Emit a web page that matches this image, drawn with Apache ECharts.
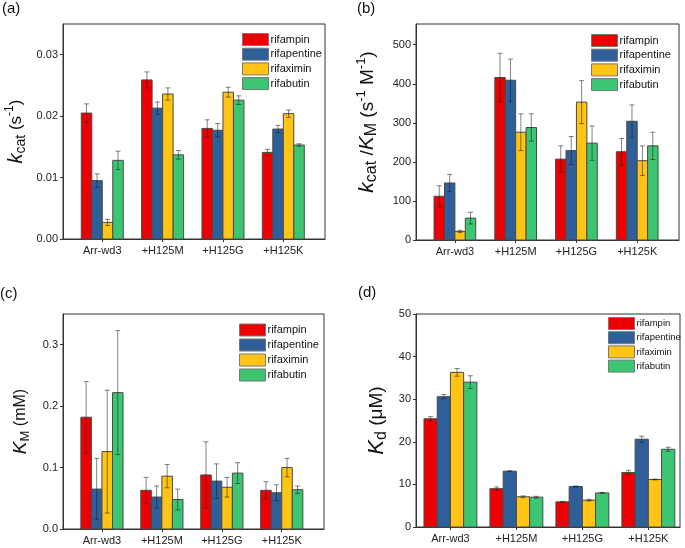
<!DOCTYPE html>
<html><head><meta charset="utf-8">
<script src="https://cdn.jsdelivr.net/npm/echarts@6/dist/echarts.min.js"></script>
<style>html,body{margin:0;padding:0;background:#fff}#c{width:685px;height:548px}</style>
</head><body><div id="c"></div>
<script>
// ---------- DATA ----------
const categories = ['Arr-wd3', '+H125M', '+H125G', '+H125K'];
const drugs = ['rifampin', 'rifapentine', 'rifaximin', 'rifabutin'];

// (a) kcat (s^-1)
const kcatRifampin      = [0.0205, 0.0259, 0.0180, 0.0141];
const kcatRifapentine   = [0.0095, 0.0213, 0.0177, 0.0179];
const kcatRifaximin     = [0.0027, 0.0236, 0.0239, 0.0204];
const kcatRifabutin     = [0.0128, 0.0137, 0.0226, 0.0153];
const kcatErrRifampin    = [0.0015, 0.0013, 0.0014, 0.0005];
const kcatErrRifapentine = [0.0011, 0.0010, 0.0011, 0.0006];
const kcatErrRifaximin   = [0.0005, 0.0010, 0.0008, 0.0006];
const kcatErrRifabutin   = [0.0015, 0.0007, 0.0007, 0.0002];
const kcatTicks = [0, 0.01, 0.02, 0.03];

// (b) kcat/KM (s^-1 M^-1)
const effRifampin      = [112, 416, 207, 226];
const effRifapentine   = [146, 409, 229, 304];
const effRifaximin     = [22, 276, 353, 203];
const effRifabutin     = [56, 288, 248, 241];
const effErrRifampin    = [27, 62, 34, 34];
const effErrRifapentine = [22, 54, 36, 42];
const effErrRifaximin   = [3, 47, 55, 38];
const effErrRifabutin   = [15, 35, 44, 35];
const effTicks = [0, 100, 200, 300, 400, 500];

// (c) KM (mM)
const kmRifampin      = [0.182, 0.063, 0.088, 0.063];
const kmRifapentine   = [0.065, 0.052, 0.078, 0.059];
const kmRifaximin     = [0.126, 0.086, 0.068, 0.100];
const kmRifabutin     = [0.222, 0.048, 0.091, 0.064];
const kmErrRifampin    = [0.058, 0.021, 0.054, 0.014];
const kmErrRifapentine = [0.050, 0.018, 0.028, 0.013];
const kmErrRifaximin   = [0.100, 0.019, 0.016, 0.015];
const kmErrRifabutin   = [0.101, 0.017, 0.017, 0.006];
const kmTicks = [0, 0.1, 0.2, 0.3];

// (d) Kd (uM)
const kdRifampin      = [25.4, 9.0, 5.9, 12.8];
const kdRifapentine   = [30.6, 13.1, 9.5, 20.6];
const kdRifaximin     = [36.3, 7.1, 6.3, 11.15];
const kdRifabutin     = [34.0, 7.0, 8.0, 18.25];
const kdErrRifampin    = [0.5, 0.4, 0.1, 0.5];
const kdErrRifapentine = [0.5, 0.1, 0.15, 0.7];
const kdErrRifaximin   = [0.9, 0.2, 0.2, 0.1];
const kdErrRifabutin   = [1.5, 0.2, 0.1, 0.45];
const kdTicks = [0, 10, 20, 30, 40, 50];

// ---------- STYLE / LAYOUT ----------
const FONT = '"Liberation Sans", Arial, sans-serif';
const colors = ['#ee0000', '#2f5f99', '#ffc414', '#3cc672'];
const catIdx = categories.map((c, k) => k);

const panels = [
  { label: '(a)', labelPos: [2, 1],
    grid: { left: 63, top: 24, width: 262, height: 215 },
    xMin: -0.651, xMax: 3.691, bw: 0.174,
    yMax: 0.035, ticks: kcatTicks, fmt: v => v.toFixed(2),
    vals: [kcatRifampin, kcatRifapentine, kcatRifaximin, kcatRifabutin],
    errs: [kcatErrRifampin, kcatErrRifapentine, kcatErrRifaximin, kcatErrRifabutin],
    name: '{k|k}{sub|cat}{n| (s}{sup|-1}{n|)}', nameGap: 35, namePad: [0, 0, 0, 0],
    rich: { k: 20, sub: 14, n: 17, sup: 12 },
    legend: { left: 242, top: 33, gap: 1.7, font: 11 } },
  { label: '(b)', labelPos: [357, 1],
    grid: { left: 416, top: 24, width: 263, height: 216 },
    xMin: -0.64, xMax: 3.688, bw: 0.1715,
    yMax: 553, ticks: effTicks, fmt: v => String(v),
    vals: [effRifampin, effRifapentine, effRifaximin, effRifabutin],
    errs: [effErrRifampin, effErrRifapentine, effErrRifaximin, effErrRifabutin],
    name: '{k|k}{sub|cat}{n| /}{k|K}{sub|M}{n| (s}{sup|-1}{n| M}{sup|-1}{n|)}', nameGap: 36, namePad: [0, 0, 0, 20],
    rich: { k: 21, sub: 16, n: 19, sup: 13 },
    legend: { left: 591, top: 34, gap: 1.7, font: 11 } },
  { label: '(c)', labelPos: [0, 286],
    grid: { left: 63, top: 314, width: 261, height: 215 },
    xMin: -0.65, xMax: 3.705, bw: 0.176,
    yMax: 0.35, ticks: kmTicks, fmt: v => v.toFixed(1),
    vals: [kmRifampin, kmRifapentine, kmRifaximin, kmRifabutin],
    errs: [kmErrRifampin, kmErrRifapentine, kmErrRifaximin, kmErrRifabutin],
    name: '{k|K}{sub|M}{n| (mM)}', nameGap: 31, namePad: [0, 0, 0, 0],
    rich: { k: 19, sub: 13, n: 16, sup: 12 },
    legend: { left: 239, top: 323.5, gap: 2, font: 11 } },
  { label: '(d)', labelPos: [358, 285],
    grid: { left: 416, top: 314, width: 264, height: 213 },
    xMin: -0.522, xMax: 3.48, bw: 0.2005,
    yMax: 50, ticks: kdTicks, fmt: v => String(v),
    vals: [kdRifampin, kdRifapentine, kdRifaximin, kdRifabutin],
    errs: [kdErrRifampin, kdErrRifapentine, kdErrRifaximin, kdErrRifabutin],
    name: '{k|K}{sub|d}{n| (\u03bcM)}', nameGap: 26, namePad: [0, 0, 0, 0],
    rich: { k: 22, sub: 16, n: 19, sup: 12 },
    legend: { left: 608, top: 317, gap: 1.2, font: 9.5 } }
];

function richStyles(r) {
  return {
    k: { fontSize: r.k, fontStyle: 'italic', fontFamily: FONT, color: '#111', lineHeight: r.k + 4 },
    sub: { fontSize: r.sub, fontFamily: FONT, color: '#111', verticalAlign: 'bottom', lineHeight: r.sub },
    n: { fontSize: r.n, fontFamily: FONT, color: '#111', lineHeight: r.k + 4 },
    sup: { fontSize: r.sup, fontFamily: FONT, color: '#111', verticalAlign: 'top', lineHeight: r.sup }
  };
}

const option = {
  animation: false,
  backgroundColor: '#fff',
  title: panels.map(p => ({
    text: p.label, left: p.labelPos[0], top: p.labelPos[1], padding: 0,
    textStyle: { fontSize: 15, fontWeight: 'normal', color: '#111', fontFamily: FONT }
  })),
  grid: panels.map(p => Object.assign({ show: true, borderColor: '#333', borderWidth: 1, backgroundColor: 'transparent' }, p.grid)),
  legend: panels.map(p => ({
    data: drugs, orient: 'vertical', left: p.legend.left, top: p.legend.top, padding: 0,
    itemWidth: 26, itemHeight: 12, itemGap: p.legend.gap, icon: 'rect',
    itemStyle: { borderColor: '#777', borderWidth: 1 },
    selectedMode: false,
    textStyle: { fontSize: p.legend.font, fontFamily: FONT, color: '#111', lineHeight: 12, padding: [0, 0, 0, -3] }
  })),
  xAxis: panels.map((p, pi) => ({
    type: 'value', gridIndex: pi, min: p.xMin, max: p.xMax,
    axisLine: { show: true, onZero: false, lineStyle: { color: '#333' } },
    axisTick: { show: true, customValues: catIdx, length: 3, lineStyle: { color: '#333' } },
    axisLabel: { customValues: catIdx, formatter: v => categories[Math.round(v)], fontSize: 11, color: '#222', fontFamily: FONT, margin: 6 },
    splitLine: { show: false }
  })),
  yAxis: panels.map((p, pi) => ({
    type: 'value', gridIndex: pi, min: 0, max: p.yMax,
    axisLine: { show: true, onZero: false, lineStyle: { color: '#333' } },
    axisTick: { show: true, customValues: p.ticks, length: 3, lineStyle: { color: '#333' } },
    axisLabel: { customValues: p.ticks, formatter: p.fmt, fontSize: 11, color: '#222', fontFamily: FONT, margin: 5 },
    splitLine: { show: false },
    name: p.name, nameLocation: 'middle', nameGap: p.nameGap, nameRotate: 90,
    nameTextStyle: { rich: richStyles(p.rich), padding: p.namePad }
  })),
  series: []
};

panels.forEach((p, pi) => {
  drugs.forEach((name, i) => {
    option.series.push({
      name: name, type: 'custom', xAxisIndex: pi, yAxisIndex: pi,
      itemStyle: { color: colors[i] },
      encode: { x: 0, y: 1 },
      data: categories.map((c, k) => [k, p.vals[i][k], p.errs[i][k]]),
      renderItem: function (params, api) {
        const x = api.value(0), y = api.value(1), e = api.value(2);
        const bw = p.bw;
        const cx = x + (i - 1.5) * bw;
        const a = api.coord([cx - bw / 2, 0]);
        const b = api.coord([cx + bw / 2, y]);
        const top = api.coord([cx, y + e]);
        const bot = api.coord([cx, y - e]);
        const cap = 2.5;
        const es = { stroke: 'rgba(30,30,30,0.55)', lineWidth: 1 };
        return {
          type: 'group', children: [
            { type: 'rect', shape: { x: a[0], y: b[1], width: b[0] - a[0], height: a[1] - b[1] },
              style: { fill: colors[i], stroke: '#4a4a4a', lineWidth: 1 } },
            { type: 'line', shape: { x1: top[0], y1: top[1], x2: bot[0], y2: bot[1] }, style: es },
            { type: 'line', shape: { x1: top[0] - cap, y1: top[1], x2: top[0] + cap, y2: top[1] }, style: es },
            { type: 'line', shape: { x1: bot[0] - cap, y1: bot[1], x2: bot[0] + cap, y2: bot[1] }, style: es }
          ]
        };
      }
    });
  });
});

const chart = echarts.init(document.getElementById('c'), null, { renderer: 'canvas' });
chart.setOption(option);
</script>
</body></html>
